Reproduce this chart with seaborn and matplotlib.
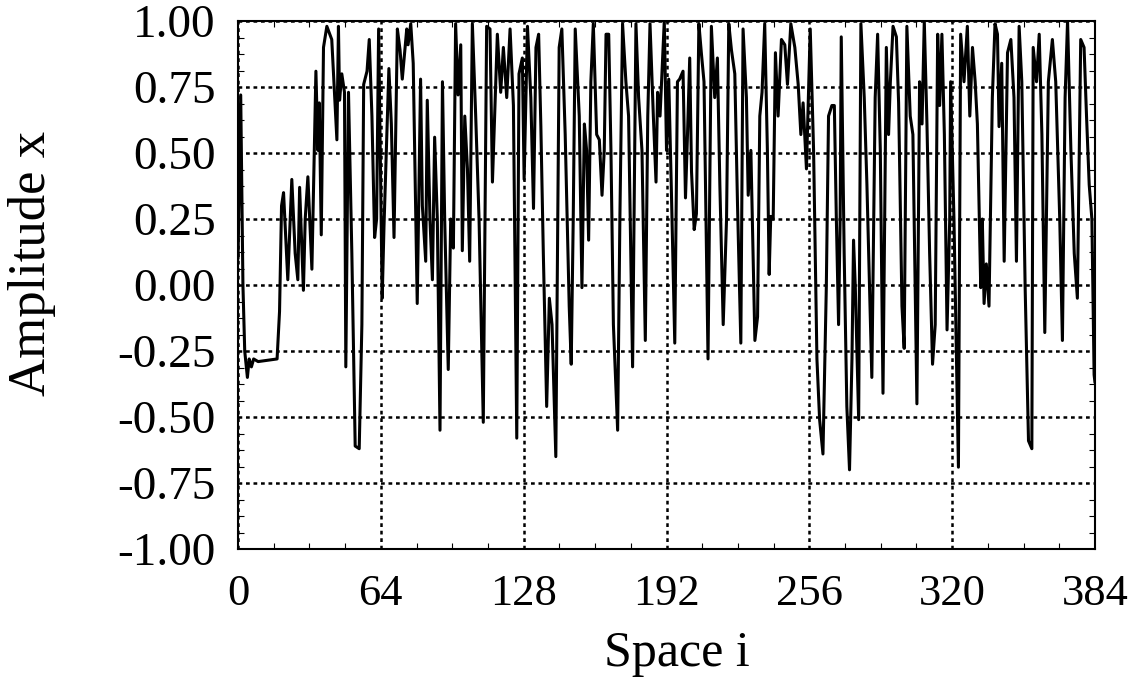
import numpy as np
import matplotlib
matplotlib.use("Agg")
import matplotlib.pyplot as plt
import seaborn as sns
import pandas as pd
from matplotlib.ticker import MultipleLocator

# traced polyline vertices (space index, amplitude)
space_i = [
    0, 1.2, 2.2, 3, 4.2, 5, 6, 7, 9, 17.5, 18.6, 19.5, 20.4, 22.3, 24.1, 25.6, 26.8, 27.6,
    29.3, 30.1, 31.3, 33.1, 34.9, 35.8, 36.4, 37.3, 38.3, 39.8, 42, 44.3, 45, 45.5, 46.5,
    47.7, 48.3, 49.5, 51, 52.5, 54.3, 55.5, 56.3, 57.8, 58.8, 60, 61.2, 62.1, 63,
    64.6, 65.4, 67.6, 68.7, 69.9, 71.4, 72.6, 73.6, 75.6, 76.2, 77.4, 78.5, 80.3, 81.8,
    82.6, 84.1, 84.8, 86, 87.1, 88.1, 89.3, 90.5, 91.6, 92.6, 94.2, 95.3, 96.5, 97.5,
    98.6, 99.8, 100.5, 101.6, 102.8, 103.8, 105, 106.5, 108, 109.9, 111.4, 112.9, 114,
    115, 116.2, 117.7, 118.9, 120.4, 121.9, 123.4, 124.9, 125.9, 127.4,
    128.2, 129.7, 131.2, 132.4, 133.5, 134.7, 135.7, 136.8, 138.3, 139.5, 140.7, 142.4,
    143.9, 145.1, 146.6, 148.4, 149.3, 150.2, 151.1, 152.9, 154.1, 155.2, 156.2, 157.1,
    158.1, 159.2, 160.7, 161.9, 163.1, 164.1, 164.9, 166.1, 167.1, 168.2, 170.1, 171.1,
    172.3, 173.8, 175, 176.8, 178.3, 179.5, 181, 182.5, 183.6, 184.6, 186.1, 187.3, 188,
    189.1, 191,
    192, 193, 194.2, 195.7, 196.9, 197.9, 199.4, 200.5, 201.4, 202.4, 203.2, 204.4, 205.4,
    206.5, 207.6, 208.8, 210.6, 212.1, 213.6, 214.8, 215.9, 217.4, 218.9, 219.9, 221.1,
    222.6, 223.8, 225.3, 226.3, 227.8, 228.6, 229.8, 231.6, 232.8, 233.8, 234.8, 236,
    237.2, 238, 238.7, 239.8, 240.8, 242, 243.5, 245, 246.2, 247.7, 249.5, 251, 252.2,
    253.2, 254.7,
    256.4, 257.9, 259.4, 260.6, 262.1, 263.6, 264.6, 266.1, 267.2, 268.1, 269.1, 269.8,
    270.3, 271, 271.6, 272.8, 274, 275.1, 275.8, 276.6, 278.1, 279.1, 280.6, 281.8, 284,
    285.5, 286.6, 287.8, 289, 290.5, 291.5, 292.3, 293.5, 295, 296, 297.5, 298.5, 299.7,
    301.2, 302.4, 304.2, 305.4, 306.5, 307.5, 308.7, 309.9, 311.2, 312.4, 313.5, 314.4,
    315.4, 316.5, 317.7, 318.9,
    319.3, 320.8, 322.8, 323.8, 325.3, 326.8, 327.9, 329.1, 330.3, 331.3, 332.8, 333.5,
    334.3, 335.3, 336.5, 338, 339.2, 340.3, 341, 342.2, 343.3, 344.8, 346.3, 347.7, 348.8,
    350, 351.2, 352.7, 354.2, 355.7, 356.3, 357.8, 359, 360.2, 361.5, 363.1, 364.9, 366.4,
    368.2, 369.4, 370.6, 371.7, 373.2, 374.7, 376.1, 377.6, 379.1, 380.2, 381.4, 382.6,
    383.6, 384,
]
amplitude = [
    0.1, 0.72, 0.0, -0.25, -0.35, -0.28, -0.31, -0.28, -0.29, -0.28, -0.1, 0.3, 0.35, 0.02,
    0.40, 0.12, 0.02, 0.37, -0.02, 0.25, 0.41, 0.06, 0.81, 0.51, 0.69, 0.19, 0.90, 0.98,
    0.93, 0.55, 0.98, 0.70, 0.80, 0.73, -0.31, 0.73, 0.12, -0.61, -0.62, -0.15, 0.76, 0.81,
    0.93, 0.64, 0.18, 0.25, 0.97,
    -0.05, 0.22, 0.82, 0.61, 0.18, 0.97, 0.89, 0.78, 0.97, 0.91, 0.99, 0.84, -0.07, 0.78,
    0.30, 0.09, 0.70, 0.25, 0.02, 0.56, 0.25, -0.55, 0.77, 0.25, -0.32, 0.25, 0.14, 0.99,
    0.72, 0.91, 0.13, 0.64, 0.44, 0.09, 0.99, 0.64, 0.25, -0.52, 0.98, 0.97, 0.39,
    0.64, 0.95, 0.73, 0.90, 0.71, 0.97, 0.68, -0.58, 0.80, 0.86,
    0.40, 0.98, 0.71, 0.29, 0.90, 0.95, 0.60, 0.12, -0.46, -0.05, -0.15, -0.65,
    0.90, 0.97, 0.57, -0.08, -0.30, 0.25, 0.97, 0.64, -0.01, 0.61, 0.51, 0.17,
    0.77, 0.99, 0.57, 0.55, 0.34, 0.51, 0.95, 0.95, 0.51, -0.15, -0.55, 0.25,
    0.99, 0.77, 0.64, -0.31, 0.99, 0.71, 0.51, -0.21, 0.64, 0.99, 0.64, 0.39, 0.73,
    0.64, 1.0,
    0.51, 0.78, 0.35, -0.22, 0.77, 0.78, 0.81, 0.33, 0.57, 0.86, 0.43, 0.21, 0.27,
    0.99, 0.88, 0.77, -0.28, 0.98, 0.71, 0.86, 0.38, -0.15, 0.25, 0.99, 0.89,
    0.80, 0.31, -0.22, 0.97, 0.71, 0.34, 0.51, -0.21, -0.12, 0.64, 0.73, 0.99,
    0.51, 0.04, 0.26, 0.25, 0.88, 0.64, 0.93, 0.91, 0.76, 0.99, 0.90, 0.76, 0.57,
    0.69, 0.44,
    0.97, 0.51, -0.28, -0.51, -0.64, -0.01, 0.64, 0.68, 0.68, 0.25, -0.15, 0.25,
    0.94, 0.51, 0.12, -0.46, -0.70, -0.28, 0.17, -0.01, -0.51, 0.99, 0.71, 0.38, -0.35,
    0.71, 0.95, 0.51, -0.41, 0.90, 0.57, 0.77, 0.98, 0.94, 0.69, -0.08, -0.24, 0.98,
    0.64, 0.57, -0.45, 0.77, 0.61, 1.0, 0.61, 0.12, -0.30, -0.15, 0.95, 0.68,
    0.95, 0.57, -0.17, 0.25,
    0.77, 0.25, -0.69, 0.95, 0.77, 0.98, 0.64, 0.90, 0.77, 0.61, -0.01, 0.25,
    -0.07, 0.08, -0.08, 0.71, 0.99, 0.95, 0.60, 0.84, 0.09, 0.88, 0.93, 0.71, 0.09,
    0.98, 0.77, -0.01, -0.59, -0.62, 0.90, 0.77, 0.95, 0.57, -0.18, 0.77, 0.93, 0.77,
    0.25, -0.21, 0.71, 1.0, 0.51, 0.12, -0.05, 0.93, 0.90, 0.64, 0.38, 0.25,
    -0.34, -0.37,
]

x_ticks = [0, 64, 128, 192, 256, 320, 384]
y_ticks = [-1.0, -0.75, -0.5, -0.25, 0.0, 0.25, 0.5, 0.75, 1.0]

df = pd.DataFrame({"Space i": space_i, "Amplitude x": amplitude})

sns.set_style("ticks")
plt.rcParams["font.family"] = ["Liberation Serif", "DejaVu Serif"]
plt.rcParams.update({"text.color": "black", "axes.labelcolor": "black",
                     "xtick.color": "black", "ytick.color": "black"})

fig = plt.figure(figsize=(11.46, 6.85), dpi=100)
ax = fig.add_axes([0.2077, 0.1985, 0.7478, 0.7708])

sns.lineplot(data=df, x="Space i", y="Amplitude x", sort=False, estimator=None,
             color="black", linewidth=2.2, ax=ax)

ax.set_xlim(0, 384)
ax.set_ylim(-1, 1)
ax.set_xticks(x_ticks)
ax.set_yticks(y_ticks)
ax.set_yticklabels([f"{v:.2f}" for v in y_ticks])
ax.xaxis.set_minor_locator(MultipleLocator(16))
ax.yaxis.set_minor_locator(MultipleLocator(0.0625))

ax.grid(True, which="major", color="black", linestyle=(0, (1.5, 1.5)), linewidth=1.8)
ax.tick_params(which="both", direction="in", top=True, right=True, color="black")
ax.tick_params(which="major", length=0)
ax.tick_params(which="minor", length=4, width=0.8)
ax.tick_params(axis="y", which="major", labelsize=34, pad=16)
ax.tick_params(axis="x", which="major", labelsize=32, pad=18)

for s in ax.spines.values():
    s.set_color("black")
    s.set_linewidth(1.5)

ax.set_xlabel("Space i", fontsize=36)
ax.set_ylabel("Amplitude x", fontsize=38)
ax.xaxis.set_label_coords(0.512, -0.155)
ax.yaxis.set_label_coords(-0.212, 0.54)

fig.savefig("out.png", dpi=100)
